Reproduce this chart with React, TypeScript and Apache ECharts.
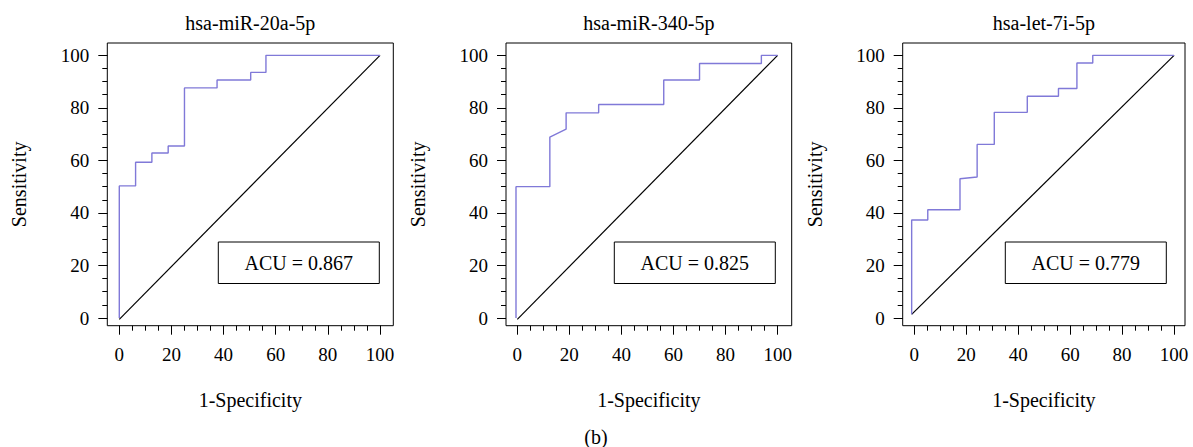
import React, { useEffect, useRef } from "react";
import * as echarts from "echarts";

// ---------- data ----------
const panelTitles = ["hsa-miR-20a-5p", "hsa-miR-340-5p", "hsa-let-7i-5p"];
const aucLabels = ["ACU = 0.867", "ACU = 0.825", "ACU = 0.779"];

// ROC step curves (1-specificity, sensitivity), in %
const roc1X = [0, 0, 6.25, 6.25, 12.5, 12.5, 18.75, 18.75, 25, 25, 37.5, 37.5, 50.4, 50.4, 56.25, 56.25, 100];
const roc1Y = [0, 50.3, 50.3, 59.3, 59.3, 62.8, 62.8, 65.5, 65.5, 87.6, 87.6, 90.6, 90.6, 93.5, 93.5, 100, 100];

const roc2X = [-0.5, -0.5, 12.5, 12.5, 18.75, 18.75, 31.25, 31.25, 56.25, 56.25, 70, 70, 93.75, 93.75, 100];
const roc2Y = [0, 50, 50, 68.9, 71.9, 78.1, 78.1, 81.3, 81.3, 90.6, 90.6, 96.9, 96.9, 100, 100];

const roc3X = [-1, -1, 5.2, 5.2, 17.6, 17.6, 24.2, 24.2, 30.8, 30.8, 43.5, 43.5, 55.5, 55.5, 62.6, 62.6, 68.7, 68.7, 100];
const roc3Y = [1.4, 37.3, 37.3, 41.2, 41.2, 53.0, 53.7, 66.1, 66.1, 78.3, 78.3, 84.4, 84.4, 87.4, 87.4, 97.1, 97.1, 100, 100];

// reference diagonals
const diag1X = [0, 100];
const diag1Y = [-0.5, 100];
const diag2X = [0, 100];
const diag2Y = [-0.5, 100];
const diag3X = [-1, 100];
const diag3Y = [1.4, 100];

const majorTicks = [0, 20, 40, 60, 80, 100];
const minorTicks = [0, 5, 10, 15, 20, 25, 30, 35, 40, 45, 50, 55, 60, 65, 70, 75, 80, 85, 90, 95, 100];

const xAxisName = "1-Specificity";
const yAxisName = "Sensitivity";
const figureLabel = "(b)";

// ---------- layout ----------
const FONT = "'Liberation Serif', 'Times New Roman', serif";
const panels = [
  { left: 107.3, width: 286, xMin: -4.6, xMax: 105.1, boxX: 218.3, rx: roc1X, ry: roc1Y, dx: diag1X, dy: diag1Y },
  { left: 506, width: 285.7, xMin: -4.34, xMax: 105.4, boxX: 614.3, rx: roc2X, ry: roc2Y, dx: diag2X, dy: diag2Y },
  { left: 902.7, width: 282.3, xMin: -4.45, xMax: 104.2, boxX: 1005.3, rx: roc3X, ry: roc3Y, dx: diag3X, dy: diag3Y },
];
const GRID_TOP = 43;
const GRID_H = 282.7;
const Y_MIN = -2.93;
const Y_MAX = 104.7;

const zip = (xs: number[], ys: number[]) => xs.map((x, i) => [x, ys[i]]);

export default function App() {
  const ref = useRef<HTMLDivElement>(null);

  useEffect(() => {
    document.body.style.margin = "0";
    if (!ref.current) return;
    const chart = echarts.init(ref.current, undefined, { renderer: "svg" });

    const tickStyle = { color: "#000", width: 1 };
    const labelStyle = { color: "#000", fontFamily: FONT, fontSize: 19 };
    const nameStyle = { color: "#000", fontFamily: FONT, fontSize: 20 };
    const hiddenLine = { show: false, onZero: false };

    const grid: any[] = [];
    const xAxis: any[] = [];
    const yAxis: any[] = [];
    const series: any[] = [];
    const graphic: any[] = [];

    panels.forEach((p, i) => {
      grid.push({
        left: p.left,
        top: GRID_TOP,
        width: p.width,
        height: GRID_H,
        show: true,
        borderColor: "#000",
        borderWidth: 1,
        backgroundColor: "transparent",
        containLabel: false,
      });
      xAxis.push({
        type: "value",
        gridIndex: i,
        position: "bottom",
        min: p.xMin,
        max: p.xMax,
        axisLine: hiddenLine,
        splitLine: { show: false },
        axisTick: { show: true, inside: false, length: 9, customValues: majorTicks, lineStyle: tickStyle },
        axisLabel: { show: true, customValues: majorTicks, margin: 19, ...labelStyle },
        name: xAxisName,
        nameLocation: "middle",
        nameGap: 64,
        nameTextStyle: nameStyle,
      });
      xAxis.push({
        type: "value",
        gridIndex: i,
        position: "bottom",
        min: p.xMin,
        max: p.xMax,
        axisLine: hiddenLine,
        splitLine: { show: false },
        axisLabel: { show: false },
        axisTick: { show: true, inside: false, length: 5, customValues: minorTicks, lineStyle: tickStyle },
      });
      yAxis.push({
        type: "value",
        gridIndex: i,
        position: "left",
        min: Y_MIN,
        max: Y_MAX,
        axisLine: hiddenLine,
        splitLine: { show: false },
        axisTick: { show: true, inside: false, length: 9, customValues: majorTicks, lineStyle: tickStyle },
        axisLabel: { show: true, customValues: majorTicks, margin: 18, ...labelStyle },
        name: yAxisName,
        nameLocation: "middle",
        nameGap: 78,
        nameTextStyle: nameStyle,
      });
      yAxis.push({
        type: "value",
        gridIndex: i,
        position: "left",
        min: Y_MIN,
        max: Y_MAX,
        axisLine: hiddenLine,
        splitLine: { show: false },
        axisLabel: { show: false },
        axisTick: { show: true, inside: false, length: 5, customValues: minorTicks, lineStyle: tickStyle },
      });
      series.push({
        type: "line",
        xAxisIndex: 2 * i,
        yAxisIndex: 2 * i,
        data: zip(p.dx, p.dy),
        showSymbol: false,
        symbol: "none",
        silent: true,
        clip: false,
        lineStyle: { color: "#000", width: 1.2 },
      });
      series.push({
        type: "line",
        xAxisIndex: 2 * i,
        yAxisIndex: 2 * i,
        data: zip(p.rx, p.ry),
        showSymbol: false,
        symbol: "none",
        silent: true,
        clip: false,
        lineStyle: { color: "#8079d8", width: 1.4 },
      });
      graphic.push({
        type: "text",
        x: p.left + p.width / 2,
        y: 23,
        style: {
          text: panelTitles[i],
          textAlign: "center",
          textVerticalAlign: "middle",
          fontFamily: FONT,
          fontSize: 20,
          fill: "#000",
        },
      });
      graphic.push({
        type: "rect",
        shape: { x: p.boxX, y: 242, width: 161, height: 41.5 },
        style: { fill: "#fff", stroke: "#000", lineWidth: 1 },
        z: 10,
      });
      graphic.push({
        type: "text",
        x: p.boxX + 80.5,
        y: 263,
        z: 11,
        style: {
          text: aucLabels[i],
          textAlign: "center",
          textVerticalAlign: "middle",
          fontFamily: FONT,
          fontSize: 20,
          fill: "#000",
        },
      });
    });

    graphic.push({
      type: "text",
      x: 596,
      y: 437,
      style: {
        text: figureLabel,
        textAlign: "center",
        textVerticalAlign: "middle",
        fontFamily: FONT,
        fontSize: 20,
        fill: "#000",
      },
    });

    chart.setOption({
      animation: false,
      backgroundColor: "#fff",
      grid,
      xAxis,
      yAxis,
      series,
      graphic,
    });

    return () => chart.dispose();
  }, []);

  return <div ref={ref} style={{ width: 1193, height: 447 }} />;
}
